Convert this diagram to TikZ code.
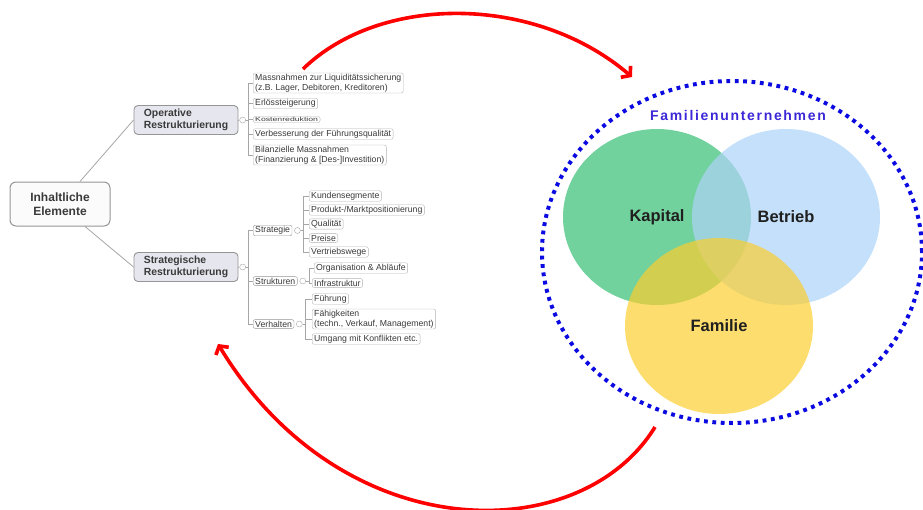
\documentclass[tikz,border=0pt]{standalone}
\usepackage{fontspec}
\setmainfont{Liberation Sans}
\usepackage{graphicx}
\usepackage{tikz}
\usetikzlibrary{arrows.meta, shapes.geometric, positioning, calc}

\definecolor{boxline}{HTML}{959595}
\definecolor{boxfill}{HTML}{E6E6EE}
\definecolor{txtgray}{HTML}{3A3A3A}
\definecolor{kapgreen}{RGB}{54,191,116}
\definecolor{betblue}{RGB}{172,211,248}
\definecolor{famyellow}{RGB}{251,206,48}
\definecolor{dotblue}{RGB}{10,10,225}
\definecolor{titleblue}{RGB}{60,40,215}

\tikzset{
  rootbox/.style={draw=boxline, rounded corners=6pt, fill=gray!3, line width=1pt,
    align=center, minimum width=100pt, minimum height=44pt,
    font=\fontsize{12}{13.5}\selectfont\bfseries, text=txtgray},
  mainbox/.style={draw=boxline, rounded corners=4pt, fill=boxfill, line width=0.9pt,
    align=left, minimum width=104pt, minimum height=29pt,
    font=\fontsize{10.4}{11.4}\selectfont\bfseries, text=txtgray},
  subbox/.style={draw=boxline, rounded corners=2pt, fill=white, anchor=west,
    inner xsep=2pt, inner ysep=1.2pt, font=\fontsize{8.7}{9.5}\selectfont, text=txtgray},
  leaf/.style={draw=gray!60, rounded corners=2pt, fill=white, align=left, anchor=west,
    inner xsep=2pt, inner ysep=1.2pt, font=\fontsize{8.7}{9.5}\selectfont, text=txtgray},
  knob/.style={circle, draw=gray!70, fill=white, inner sep=0pt, minimum size=6pt},
  branch/.style={draw=gray!70, line width=0.8pt},
  venn/.style={ellipse, minimum width=188pt, minimum height=176pt, fill opacity=0.7,
    text opacity=1, font=\fontsize{16.5}{18}\selectfont\bfseries, text=black!88},
  cyclearrow/.style={draw=red, line width=3.6pt, -{Straight Barb[length=6pt, width=15pt]}}
}

\begin{document}
\begin{tikzpicture}[x=1pt, y=-1pt]
  \useasboundingbox (0,0) rectangle (923,509);

  % mind map
  \node[rootbox] (root) at (60,204) {Inhaltliche\\Elemente};
  \node[mainbox] (op) at (186,120) {Operative\\Restrukturierung};
  \node[mainbox] (st) at (186,267) {Strategische\\Restrukturierung};
  \draw[branch] ([xshift=20pt]root.north) -- (op.west);
  \draw[branch] ([xshift=25pt]root.south) -- (st.west);

  % operative
  \node[knob, right=1pt of op] (opc) {};
  \draw[branch] (op.east) -- (opc.west);
  \node[leaf] (liq) at (253,83) {Massnahmen zur Liquidit\"atssicherung\\(z.B. Lager, Debitoren, Kreditoren)};
  \node[leaf] (erl) at (253,103.5) {Erl\"ossteigerung};
  \node[leaf, inner ysep=0.8pt] (kost) at (253,119.5)
    {\fontsize{6}{7}\selectfont\scalebox{1.45}[1]{Kostenreduktion}};
  \node[leaf] (fuehr) at (253,134) {Verbesserung der F\"uhrungsqualit\"at};
  \node[leaf] (bil) at (253,155) {Bilanzielle Massnahmen\\(Finanzierung \& [Des-]Investition)};
  \foreach \c in {liq,erl,kost,fuehr,bil}
    \draw[branch] (opc.east) -- ++(3,0) |- (\c.west);

  % strategische
  \node[knob, right=1pt of st] (stc) {};
  \draw[branch] (st.east) -- (stc.west);
  \node[subbox] (strat) at (253,230.5) {Strategie};
  \node[subbox] (struk) at (253,281) {Strukturen};
  \node[subbox] (verh) at (253,324) {Verhalten};
  \foreach \c in {strat,struk,verh}
    \draw[branch] (stc.east) -- ++(3,0) |- (\c.west);

  \node[knob, right=2pt of strat] (stratc) {};
  \node[leaf] (kunde) at (309,196) {Kundensegmente};
  \node[leaf] (markt) at (309,210) {Produkt-/Marktpositionierung};
  \node[leaf] (qual) at (309,224) {Qualit\"at};
  \node[leaf] (preis) at (309,238) {Preise};
  \node[leaf] (vertr) at (309,252) {Vertriebswege};
  \foreach \c in {kunde,markt,qual,preis,vertr}
    \draw[branch] (stratc.east) -- ++(3,0) |- (\c.west);

  \node[knob, right=2pt of struk] (strukc) {};
  \node[leaf] (orga) at (314,268) {Organisation \& Abl\"aufe};
  \node[leaf] (infra) at (312,283) {Infrastruktur};
  \foreach \c in {orga,infra}
    \draw[branch] (strukc.east) -- ++(3,0) |- (\c.west);

  \node[knob, right=2pt of verh] (verhc) {};
  \node[leaf] (fuehrung) at (312,299) {F\"uhrung};
  \node[leaf] (faeh) at (312,319) {F\"ahigkeiten\\(techn., Verkauf, Management)};
  \node[leaf] (konfl) at (312,339) {Umgang mit Konflikten etc.};
  \foreach \c in {fuehrung,faeh,konfl}
    \draw[branch] (verhc.east) -- ++(3,0) |- (\c.west);

  % venn diagram
  \node[ellipse, draw=dotblue, line width=4pt, dash pattern=on 3.8pt off 4.6pt,
    minimum width=380pt, minimum height=342pt] (firm) at (732,252) {};
  \node[font=\fontsize{14}{16}\selectfont\bfseries\addfontfeature{LetterSpace=12}, text=titleblue]
    (title) at (738,115) {Familienunternehmen};
  \node[venn, fill=kapgreen] (kap) at (657,217) {Kapital};
  \node[venn, fill=betblue] (bet) at (786,217) {Betrieb};
  \node[venn, fill=famyellow] (fam) at (719,326) {Familie};

  % red cycle arrows
  \coordinate (mapout) at (303,69);
  \coordinate (vennin) at (632,77);
  \coordinate (vennout) at (655,427);
  \coordinate (mapin) at (218,344);
  \draw[cyclearrow] (mapout) .. controls (380,-6) and (535,-6) .. (vennin);
  \draw[cyclearrow] (vennout) .. controls (580,549) and (342,549) .. (mapin);
\end{tikzpicture}
\end{document}
